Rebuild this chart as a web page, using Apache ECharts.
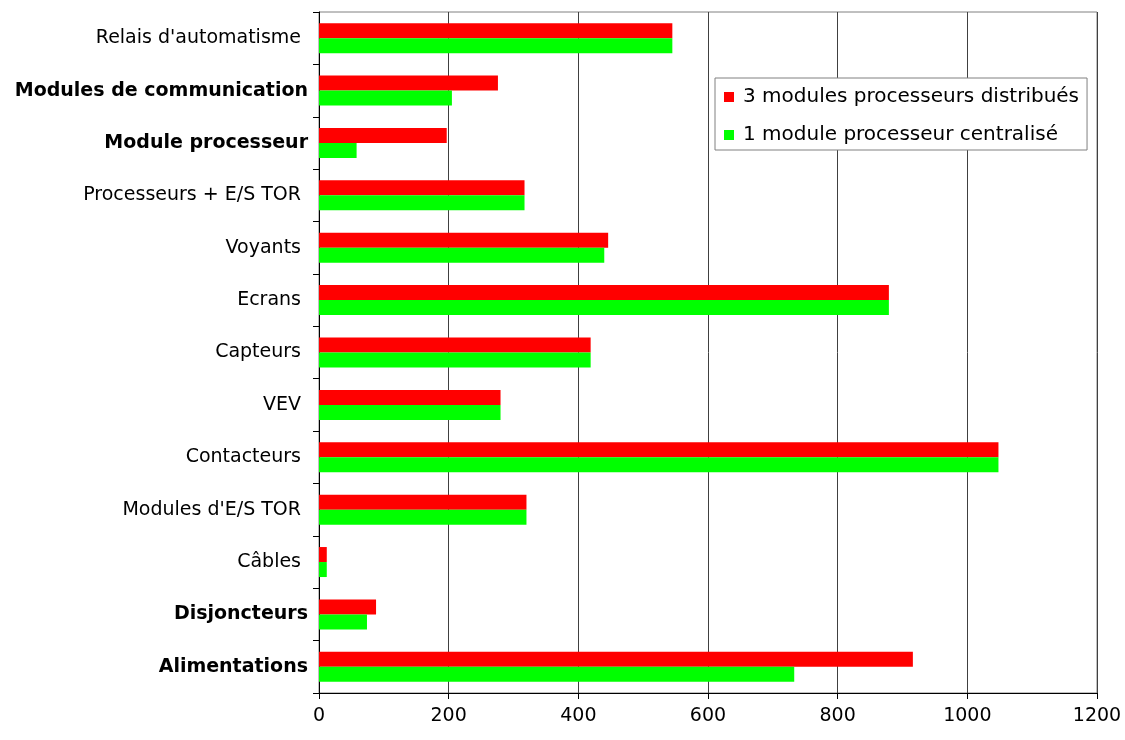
<!DOCTYPE html>
<html>
<head>
<meta charset="utf-8">
<script src="https://cdn.jsdelivr.net/npm/echarts@6/dist/echarts.min.js"></script>
<style>html,body{margin:0;padding:0;background:#fff}#c{width:1125px;height:740px}</style>
</head>
<body>
<div id="c"></div>
<script>
const categories = ["Relais d'automatisme", "Modules de communication", "Module processeur", "Processeurs + E/S TOR", "Voyants", "Ecrans", "Capteurs", "VEV", "Contacteurs", "Modules d'E/S TOR", "Câbles", "Disjoncteurs", "Alimentations"];
const boldCategories = ["Modules de communication", "Module processeur", "Disjoncteurs", "Alimentations"];
const seriesNames = ["3 modules processeurs distribués", "1 module processeur centralisé"];
const distribues = [545, 276, 197, 317, 446, 879, 419, 280, 1048, 320, 12, 88, 916];
const centralise = [545, 205, 58, 317, 440, 879, 419, 280, 1048, 320, 12, 74, 733];
const xTicks = [0, 200, 400, 600, 800, 1000, 1200];

const chart = echarts.init(document.getElementById('c'), null, {renderer: 'canvas'});
const font = '"DejaVu Sans", sans-serif';
const fs = 19;
chart.setOption({
  backgroundColor: '#fff',
  animation: false,
  textStyle: {fontFamily: font},
  grid: {left: 319, right: 28, top: 12, bottom: 47, show: true, borderColor: '#808080', borderWidth: 1, containLabel: false},
  legend: {
    data: seriesNames,
    orient: 'vertical',
    left: 715, top: 78,
    padding: [9, 8, 5, 9],
    itemGap: 18,
    itemWidth: 10, itemHeight: 10,
    icon: 'rect',
    backgroundColor: '#fff',
    borderColor: '#808080', borderWidth: 1,
    textStyle: {fontSize: 20, color: '#000', fontFamily: font, padding: [0, 0, 0, 4]}
  },
  xAxis: {
    type: 'value', min: xTicks[0], max: xTicks[xTicks.length - 1], interval: 200,
    axisLine: {show: true, lineStyle: {color: '#000', width: 1}},
    axisTick: {show: true, length: 6, lineStyle: {color: '#000'}},
    axisLabel: {fontSize: fs, color: '#000', margin: 14, fontFamily: font, formatter: function (v) { return String(v); }},
    splitLine: {show: true, lineStyle: {color: '#404040', width: 1}}
  },
  yAxis: {
    type: 'category', data: categories, inverse: true,
    axisLine: {show: true, lineStyle: {color: '#000', width: 1}},
    axisTick: {show: true, length: 6, lineStyle: {color: '#000'}},
    axisLabel: {
      fontSize: fs, color: '#000', margin: 9, fontFamily: font,
      formatter: function (v) { return boldCategories.indexOf(v) >= 0 ? '{b|' + v + '}' : '{n|' + v + '}'; },
      rich: {
        b: {fontSize: fs, fontWeight: 'bold', color: '#000', fontFamily: font, padding: [0, 2, 0, 0]},
        n: {fontSize: fs, color: '#000', fontFamily: font, padding: [0, 9, 0, 0]}
      }
    },
    splitLine: {show: false}
  },
  series: [
    {name: seriesNames[0], type: 'bar', data: distribues, barWidth: 15, barGap: '0%', itemStyle: {color: '#FF0000'}},
    {name: seriesNames[1], type: 'bar', data: centralise, barWidth: 15, barGap: '0%', itemStyle: {color: '#00FF00'}}
  ]
});
</script>
</body>
</html>
